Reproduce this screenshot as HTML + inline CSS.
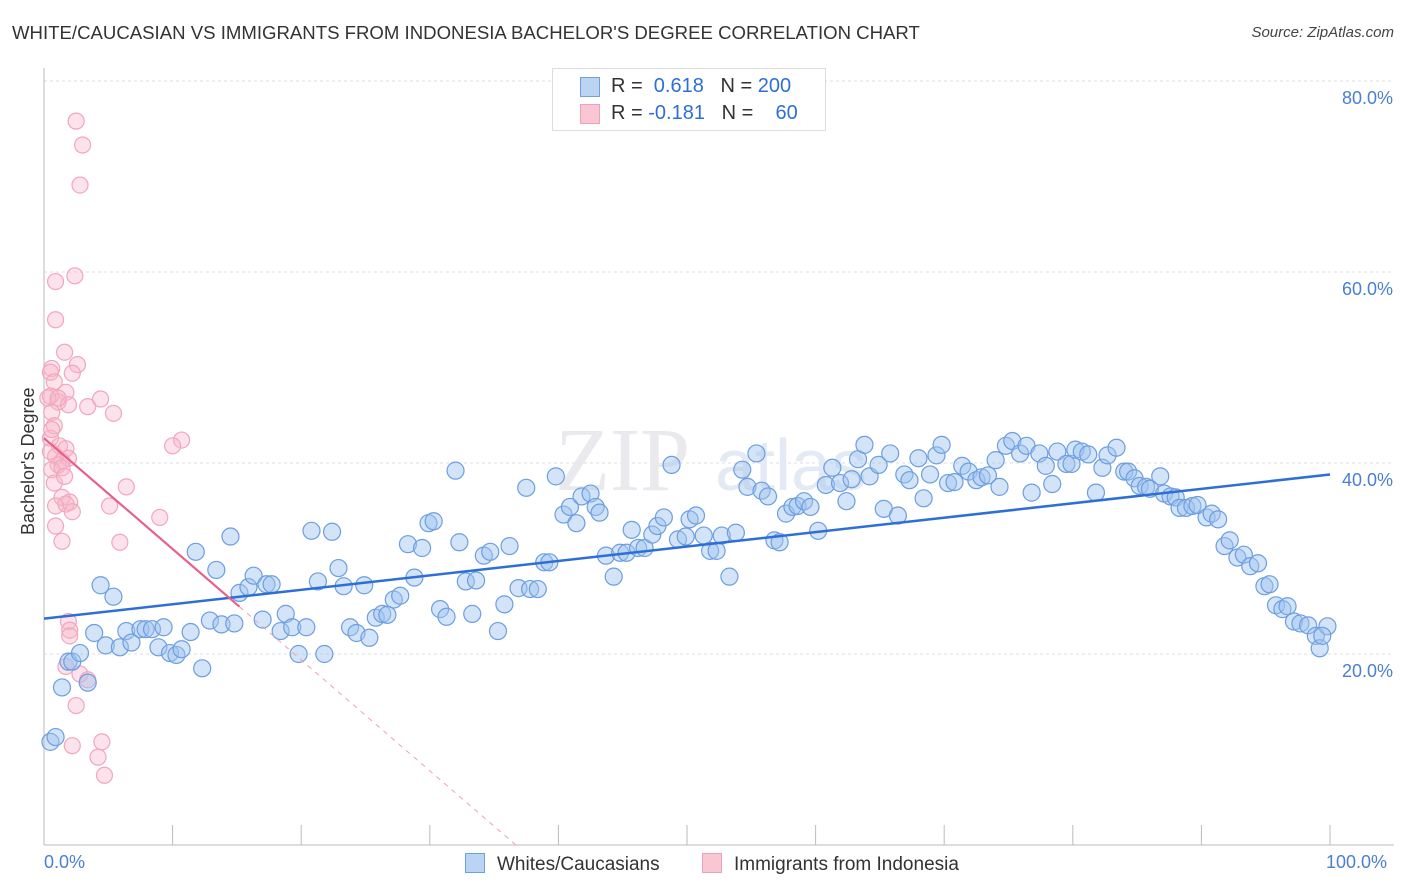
<!DOCTYPE html>
<html><head><meta charset="utf-8">
<style>
body{margin:0;background:#fff;font-family:"Liberation Sans",sans-serif;}
#wrap{position:relative;width:1406px;height:892px;overflow:hidden;}
.t{position:absolute;white-space:nowrap;}
</style></head><body>
<div id="wrap">
<div class="t" style="left:12px;top:22px;font-size:18.6px;color:#333;">WHITE/CAUCASIAN VS IMMIGRANTS FROM INDONESIA BACHELOR'S DEGREE CORRELATION CHART</div>
<div class="t" style="right:12px;top:24px;font-size:15px;color:#444;font-style:italic;">Source: ZipAtlas.com</div>
<svg id="svg" width="1406" height="892" style="position:absolute;left:0;top:0"></svg>
</div>
<script>
const yTicks=[20,40,60,80];
const yTickLabels=["20.0%","40.0%","60.0%","80.0%"];
const xTicks=[0,10,20,30,40,50,60,70,80,90,100];
const blueX=[0.5,0.9,1.4,1.9,2.2,2.8,3.4,3.9,4.4,4.8,5.4,5.9,6.4,6.8,7.5,7.9,8.4,8.9,9.3,9.8,10.3,10.7,11.4,11.8,12.3,12.9,13.4,13.8,14.5,14.8,15.2,15.9,16.3,17.0,17.3,17.7,18.4,18.8,19.3,19.8,20.4,20.8,21.3,21.8,22.4,22.9,23.3,23.8,24.3,24.9,25.3,25.8,26.3,26.7,27.2,27.7,28.3,28.8,29.4,29.9,30.3,30.8,31.3,32.0,32.3,32.8,33.3,33.6,34.2,34.7,35.3,35.8,36.2,36.9,37.5,37.8,38.4,38.9,39.3,39.8,40.4,40.9,41.4,41.8,42.5,42.9,43.2,43.7,44.3,44.8,45.3,45.7,46.2,46.7,47.3,47.7,48.2,48.8,49.3,49.9,50.2,50.7,51.3,51.8,52.3,52.7,53.3,53.8,54.3,54.7,55.4,55.8,56.3,56.8,57.2,57.7,58.2,58.6,59.1,59.6,60.2,60.8,61.3,61.9,62.4,62.8,63.3,63.8,64.2,64.9,65.3,65.8,66.4,66.9,67.3,68.0,68.4,68.9,69.4,69.8,70.3,70.8,71.4,71.9,72.5,72.9,73.4,74.0,74.3,74.8,75.3,75.9,76.4,76.8,77.4,77.9,78.4,78.8,79.5,79.9,80.2,80.7,81.2,81.8,82.3,82.7,83.4,84.0,84.3,84.8,85.2,85.7,86.0,86.8,87.1,87.6,88.0,88.3,88.8,89.3,89.7,90.4,90.8,91.3,91.8,92.2,92.8,93.3,93.8,94.4,94.9,95.3,95.8,96.3,96.7,97.2,97.7,98.3,98.9,99.2,99.8,99.4];
const blueY=[10.8,11.3,16.5,19.2,19.2,20.1,17.0,22.2,27.2,20.9,26.0,20.7,22.4,21.2,22.6,22.6,22.6,20.7,22.8,20.1,19.9,20.5,22.3,30.7,18.5,23.5,28.8,23.1,32.3,23.2,26.4,27.0,28.2,23.6,27.3,27.3,22.4,24.2,22.8,20.0,22.8,32.9,27.6,20.0,32.8,29.0,27.1,22.8,22.2,27.2,21.7,23.8,24.2,24.1,25.7,26.1,31.5,28.0,31.1,33.7,33.9,24.7,23.9,39.2,31.7,27.6,24.2,27.7,30.3,30.7,22.4,25.2,31.3,26.9,37.4,26.8,26.8,29.6,29.6,38.6,34.6,35.4,33.7,36.5,36.8,35.4,34.8,30.3,28.1,30.6,30.6,33.0,31.1,31.1,32.5,33.4,34.3,39.8,32.0,32.3,34.1,34.5,32.4,30.8,30.8,32.4,28.1,32.7,39.3,37.5,41.0,37.1,36.5,31.9,31.7,34.7,35.4,35.5,36.0,35.4,32.9,37.7,39.5,37.9,36.0,38.3,40.4,41.9,38.6,39.8,35.2,41.0,34.5,38.8,38.2,40.5,36.3,38.8,40.8,41.9,37.9,38.0,39.7,39.1,38.2,38.5,38.7,40.3,37.5,41.8,42.3,41.0,41.8,36.9,41.0,39.7,37.8,41.2,39.9,39.9,41.4,41.2,40.9,36.9,39.5,40.8,41.6,39.1,39.1,38.4,37.6,37.5,37.3,38.6,36.8,36.5,36.4,35.3,35.3,35.5,35.6,34.3,34.7,34.1,31.3,31.9,30.1,30.4,29.2,29.5,27.1,27.3,25.1,24.7,25.0,23.4,23.2,23.0,21.9,20.6,22.9,21.9];
const pinkX=[2.5,3.0,2.8,2.4,0.9,0.9,1.6,2.6,0.6,0.5,2.2,0.8,1.7,0.5,1.1,1.9,3.4,4.4,5.4,0.6,0.8,0.5,10.7,10.0,1.2,1.7,0.9,1.4,1.9,1.1,0.6,1.4,0.8,6.4,1.4,2.0,0.9,1.7,5.1,2.2,9.0,0.9,1.4,5.9,1.9,2.0,2.0,1.7,2.8,3.4,2.5,4.5,2.2,4.2,4.7,0.5,0.3,0.6,1.1,1.6];
const pinkY=[75.8,73.3,69.1,59.6,59.0,55.0,51.6,50.3,49.9,49.5,49.4,48.5,47.4,47.0,46.4,46.1,45.9,46.7,45.2,45.3,43.9,42.6,42.4,41.8,41.8,41.5,40.7,40.2,40.5,39.8,39.3,39.5,37.9,37.5,36.4,35.9,35.5,35.7,35.5,34.9,34.3,33.4,31.8,31.7,23.4,22.5,21.9,18.7,17.9,17.3,14.6,10.8,10.4,9.2,7.3,41.2,46.8,43.5,46.8,38.6];
const blueFit=[23.7,38.8];   // value at x=0, x=100
const pinkFit=[42.6,-1.161]; // intercept, slope
const pinkSolidEnd=15.2;

const NS="http://www.w3.org/2000/svg";
const svg=document.getElementById('svg');
const X0=44,X1=1330,Y0=845,YS=9.55;
const sx=v=>X0+(X1-X0)*v/100, sy=v=>Y0-v*YS;
function mk(tag,attrs,parent){const e=document.createElementNS(NS,tag);for(const k in attrs)e.setAttribute(k,attrs[k]);(parent||svg).appendChild(e);return e;}

yTicks.forEach((t,i)=>{
  const g=mk('line',{x1:X0,x2:1394,y1:sy(t),y2:sy(t),stroke:'#ddd','stroke-dasharray':'3,3'});
  
  
  const tx=mk('text',{x:1393,y:sy(t)+23,'text-anchor':'end','font-size':'18',fill:'#4a7fd4','font-family':'Liberation Sans, sans-serif'});
  tx.textContent=yTickLabels[i];
  
  
});
const ax=mk('line',{x1:X0,x2:X0,y1:68,y2:Y0,stroke:'#bbb'});


const bx=mk('line',{x1:X0,x2:1394,y1:Y0,y2:Y0,stroke:'#bbb'});


xTicks.forEach(t=>{
  const l=mk('line',{x1:sx(t),x2:sx(t),y1:Y0,y2:Y0-20,stroke:'#bbb'});
  
  
});
const wm=mk('text',{x:555,y:490,'font-size':'90','font-family':'Liberation Serif, serif',fill:'#e9e9ee'});
wm.textContent='ZIP';


const wm2=mk('text',{x:715,y:490,'font-size':'72','font-family':'Liberation Sans, sans-serif',fill:'#e3eaf5'});
wm2.textContent='atlas';



pinkX.forEach((x,i)=>{
  const c=mk('circle',{cx:sx(x),cy:sy(pinkY[i]),r:8,fill:'rgba(248,182,202,0.4)',stroke:'#f2a6be','stroke-width':1.2});
  
  
});
blueX.forEach((x,i)=>{
  const c=mk('circle',{cx:sx(x),cy:sy(blueY[i]),r:8.5,fill:'rgba(160,196,240,0.45)',stroke:'#6c9ee0','stroke-width':1.2});
  
  
});
const bl=mk('line',{x1:sx(0),y1:sy(blueFit[0]),x2:sx(100),y2:sy(blueFit[1]),stroke:'#2d6fd6','stroke-width':2.5});


const pEnd=pinkFit[0]+pinkFit[1]*pinkSolidEnd;
const pl=mk('line',{x1:sx(0),y1:sy(pinkFit[0]),x2:sx(pinkSolidEnd),y2:sy(pEnd),stroke:'#e8608a','stroke-width':2.2});


const zeroX=-pinkFit[0]/pinkFit[1];
const pd=mk('line',{x1:sx(pinkSolidEnd),y1:sy(pEnd),x2:sx(zeroX),y2:sy(0),stroke:'#f0a0b8','stroke-width':1,'stroke-dasharray':'5,5'});


</script>
<div class="t" style="left:18px;top:535px;transform:rotate(-90deg);transform-origin:0 0;font-size:18px;color:#333;">Bachelor's Degree</div>
<div class="t" style="left:44px;top:852px;font-size:18px;color:#4a7fd4;">0.0%</div>
<div class="t" style="left:1326px;top:852px;font-size:18px;color:#4a7fd4;">100.0%</div>
<div class="t" style="left:552px;top:68px;width:272px;height:61px;border:1px solid #ddd;background:#fff;font-size:20px;">
 <div style="position:absolute;left:27px;top:8px;width:18px;height:18px;background:#bcd4f4;border:1px solid #6fa0e0;"></div>
 <div style="position:absolute;left:58px;top:6px;color:#333;">R = <span style="color:#2d6fd6;">&nbsp;0.618</span>&nbsp;&nbsp;&nbsp;N = <span style="color:#2d6fd6;">200</span></div>
 <div style="position:absolute;left:27px;top:35px;width:18px;height:18px;background:#f9c6d4;border:1px solid #f0a0b8;"></div>
 <div style="position:absolute;left:58px;top:33px;color:#333;">R = <span style="color:#2d6fd6;">-0.181</span>&nbsp;&nbsp;&nbsp;N = <span style="color:#2d6fd6;">&nbsp;&nbsp;&nbsp;60</span></div>
</div>
<div class="t" style="left:465px;top:853px;font-size:19px;color:#333;"><span style="display:inline-block;width:18px;height:18px;background:#bcd4f4;border:1px solid #6fa0e0;vertical-align:-3px;margin-right:12px;"></span>Whites/Caucasians</div>
<div class="t" style="left:702px;top:853px;font-size:19px;color:#333;"><span style="display:inline-block;width:18px;height:18px;background:#f9c6d4;border:1px solid #f0a0b8;vertical-align:-3px;margin-right:12px;"></span>Immigrants from Indonesia</div>
</body></html>
